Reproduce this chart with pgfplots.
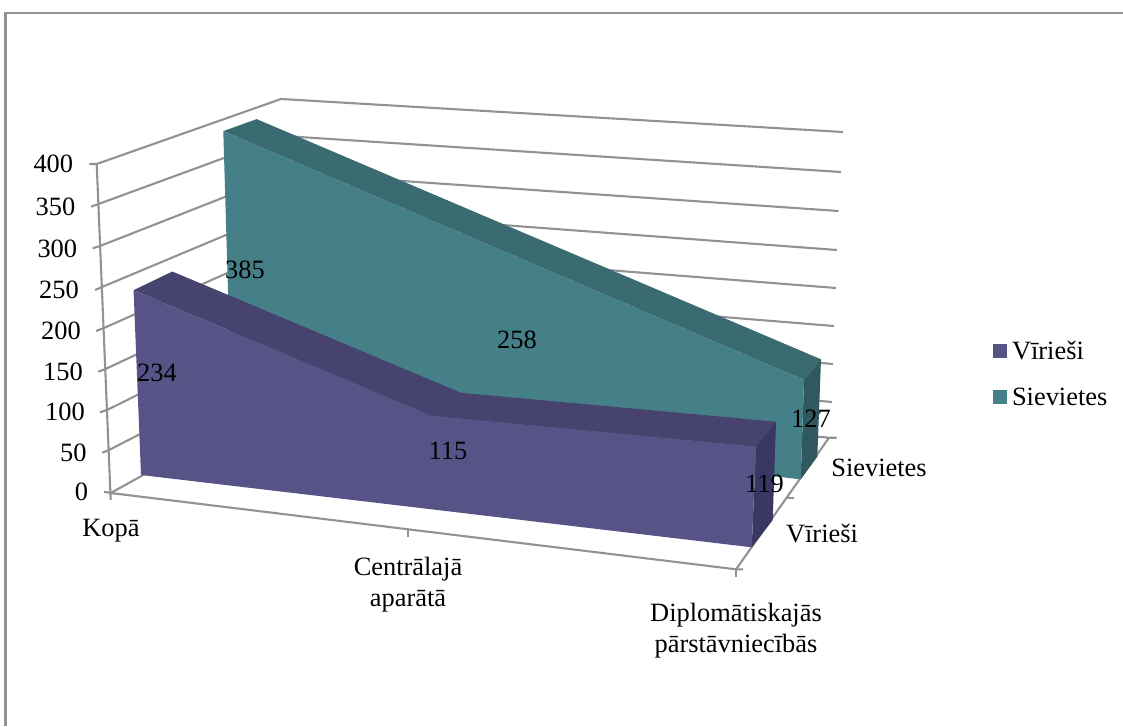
\documentclass[border=0pt]{standalone}
\usepackage{pgfplots}
\pgfplotsset{compat=1.18}
\usepackage{fontspec}
\setmainfont{Liberation Serif}
\definecolor{pF}{HTML}{575387}
\definecolor{pT}{HTML}{47436F}
\definecolor{pS}{HTML}{3A3762}
\definecolor{tF}{HTML}{457F87}
\definecolor{tT}{HTML}{396B70}
\definecolor{tS}{HTML}{2F595F}
\definecolor{gl}{HTML}{929292}
\pgfplotsset{
 /pgfplots/table/proj/.style={
  x expr=\thisrow{xz}+(\thisrow{xm}-\thisrow{xz})*\thisrow{v}/400,
  y expr=\thisrow{yz}+(\thisrow{ym}-\thisrow{yz})*\thisrow{v}/400},
 face/.style={draw=none,fill=#1,forget plot},
 grd/.style={draw=gl,line width=2.1pt,no marks,forget plot},
}
% projection of each category onto the picture: value 0 at (xz,yz), value 400 at (xm,ym)
\begin{document}
\begin{tikzpicture}
\useasboundingbox (0,0) rectangle (1123pt,726pt);
\begin{axis}[at={(0,0)},anchor=south west,scale only axis,width=1123pt,height=726pt,
 xmin=0,xmax=1123,ymin=0,ymax=726,y dir=reverse,axis lines=none,clip=false,
 legend style={at={(axis cs:993,339)},anchor=north west,draw=none,fill=none,
  font=\fontsize{26.4}{30}\selectfont,row sep=23pt,inner sep=0pt,outer sep=0pt,
  legend cell align=left},
 legend image code/.code={\fill[#1] (0pt,-7pt) rectangle (14pt,7pt);\path (0pt,0pt) -- (17pt,0pt);},
]
% outer frame
\addplot[draw=gl,line width=2.4pt,no marks,forget plot] coordinates {(5.5,726) (5.5,13) (1123,13)};
% left wall grid
\addplot[grd] coordinates {(89.3,164)(96.7,164)(281,99)(843,132)};
\addplot[grd] coordinates {(91,206.7)(98.5,204)(284,136)(841,172)};
\addplot[grd] coordinates {(92.7,248.3)(100,246)(286,173)(838.5,211)};
\addplot[grd] coordinates {(95,290)(102,287)(288,209)(837,250)};
\addplot[grd] coordinates {(96,331)(104,328)(290,245)(836,288)};
\addplot[grd] coordinates {(98.3,371.7)(105.5,369)(291,282)(834,326)};
\addplot[grd] coordinates {(100,412.3)(107,410)(293,318)(833,364)};
\addplot[grd] coordinates {(102.3,452.7)(109,450)(294,355)(832,402)};
% vertical axis
\addplot[grd] coordinates {(96.7,164)(110.7,500)};
% floor
\addplot[grd] coordinates {(104,491.7)(110.7,493)(295,391)(829,437.7)(836.7,437.7)};
\addplot[grd] coordinates {(110.7,493)(736,569.3)(743,569.3)};
\addplot[grd] coordinates {(736,569.3)(736,577)};
\addplot[grd] coordinates {(736,569.3)(829,437.7)};
\addplot[grd] coordinates {(408,529.5)(408,537)};
\addplot[grd] coordinates {(787,497.7)(794,497.7)};
% Sievietes: top, side, front
\addplot[face=tT] table[proj] {
xz yz xm ym v
231.7 416 222.97 120 385
503 446 503 143.7 258
800.7 479.3 811.1 166.5 127
817.3 456.7 828.95 149.9 127
525.5 423.2 525.5 129.2 258
265 396.3 256.4 108.3 385
};
\addplot[face=tS] table[proj] {
xz yz xm ym v
800.7 479.3 811.1 166.5 127
817.3 456.7 828.95 149.9 127
817.3 456.7 828.95 149.9 0
800.7 479.3 811.1 166.5 0
};
\addplot[face=tF] table[proj] {
xz yz xm ym v
231.7 416 222.97 120 385
503 446 503 143.7 258
800.7 479.3 811.1 166.5 127
800.7 479.3 811.1 166.5 0
503 446 503 143.7 0
231.7 416 222.97 120 0
};
% Viriesi: top, side, front
\addplot[face=pT] table[proj] {
xz yz xm ym v
141 475 128.3 159 234
431.6 509.3 432 184.8 115
751.7 547.3 766.2 209.2 119
772.7 520 783.8 189.6 119
461 483.6 461 167.6 115
179.5 451.7 167.3 143.7 234
};
\addplot[face=pS] table[proj] {
xz yz xm ym v
751.7 547.3 766.2 209.2 119
772.7 520 783.8 189.6 119
772.7 520 783.8 189.6 0
751.7 547.3 766.2 209.2 0
};
\addplot[face=pF] table[proj] {
xz yz xm ym v
141 475 128.3 159 234
431.6 509.3 432 184.8 115
751.7 547.3 766.2 209.2 119
751.7 547.3 766.2 209.2 0
431.6 509.3 432 184.8 0
141 475 128.3 159 0
};
\addlegendimage{fill=pF,draw=none}
\addlegendentry{Vīrieši}
\addlegendimage{fill=tF,draw=none}
\addlegendentry{Sievietes}
\tikzset{every node/.append style={font=\fontsize{26.4}{30}\selectfont,inner sep=0pt}}
% data labels
\node at (axis cs:245,270) {385};
\node at (axis cs:517,340) {258};
\node at (axis cs:811,419) {127};
\node at (axis cs:157,373) {234};
\node at (axis cs:448,451) {115};
\node at (axis cs:764.5,484) {119};
% value axis labels
\node[anchor=east] at (axis cs:73.3,164) {400};
\node[anchor=east] at (axis cs:75.5,207) {350};
\node[anchor=east] at (axis cs:77.3,249) {300};
\node[anchor=east] at (axis cs:79,290) {250};
\node[anchor=east] at (axis cs:81,331) {200};
\node[anchor=east] at (axis cs:83,372) {150};
\node[anchor=east] at (axis cs:85,412) {100};
\node[anchor=east] at (axis cs:86.7,453) {50};
\node[anchor=east] at (axis cs:88.3,492) {0};
% category labels
\node at (axis cs:111,531) {Kopā};
\node at (axis cs:408,569) {Centrālajā};
\node at (axis cs:408,601) {aparātā};
\node at (axis cs:736,615) {Diplomātiskajās};
\node at (axis cs:736,646) {pārstāvniecībās};
\node at (axis cs:822,534) {Vīrieši};
\node at (axis cs:879,468) {Sievietes};
\end{axis}
\end{tikzpicture}
\end{document}
